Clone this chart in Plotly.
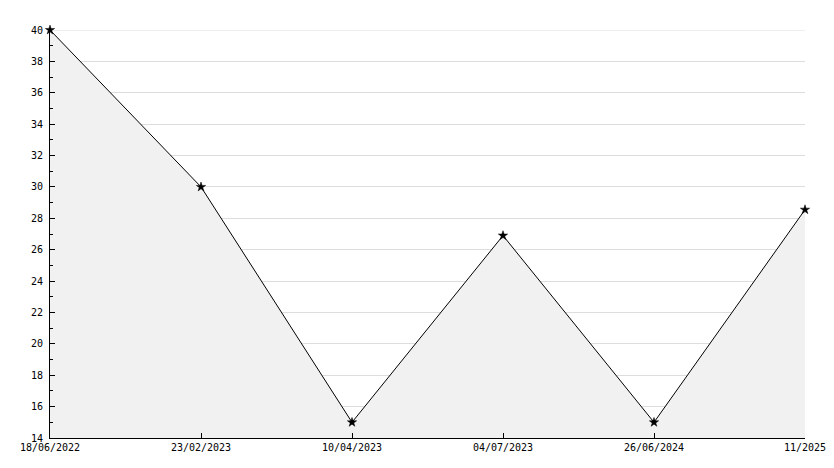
import plotly.graph_objects as go

dates = ["18/06/2022", "23/02/2023", "10/04/2023", "04/07/2023", "26/06/2024", "11/2025"]
values = [40, 30, 15, 26.9, 15, 28.55]
y_ticks = list(range(14, 41, 2))

x = list(range(len(dates)))

fig = go.Figure()
fig.add_trace(go.Scatter(
    x=[x[-1], x[-1]], y=[values[-1], y_ticks[0]], mode="lines",
    line=dict(color="black", width=1), showlegend=False, hoverinfo="skip",
))
fig.add_trace(go.Scatter(
    x=x, y=values, mode="lines+markers",
    line=dict(color="black", width=1),
    marker=dict(symbol="star", size=7, color="black", line=dict(width=0.5, color="black")),
    fill="tozeroy", fillcolor="#f1f1f1",
    hoverinfo="skip", showlegend=False, cliponaxis=False,
))

font = dict(family="DejaVu Sans Mono", size=10, color="black")
# page body has an 8px margin, so the figure is sized/offset accordingly
fig.update_layout(
    width=826, height=460,
    margin=dict(l=42, r=29, t=22, b=30),
    paper_bgcolor="white", plot_bgcolor="white",
    font=font,
    xaxis=dict(
        range=[0, len(dates) - 1], tickvals=x, ticktext=dates,
        showgrid=False, zeroline=False, automargin=False,
        showline=True, linecolor="black", linewidth=1,
        ticks="inside", ticklen=5, tickcolor="black",
        tickfont=font,
    ),
    yaxis=dict(
        range=[14, 40], tickvals=y_ticks,
        showgrid=True, gridcolor="#dddddd", gridwidth=1, zeroline=False,
        automargin=False,
        showline=True, linecolor="black", linewidth=1,
        ticks="inside", ticklen=5, tickcolor="black",
        minor=dict(dtick=1, ticks="inside", ticklen=3, tickcolor="black", showgrid=False),
        tickfont=font, ticklabelstandoff=4,
    ),
    shapes=[dict(type="line", xref="paper", yref="y", x0=0, x1=1, y0=40, y1=40,
                 line=dict(color="#dddddd", width=1), layer="below")],
)
fig.write_html("out.html")
